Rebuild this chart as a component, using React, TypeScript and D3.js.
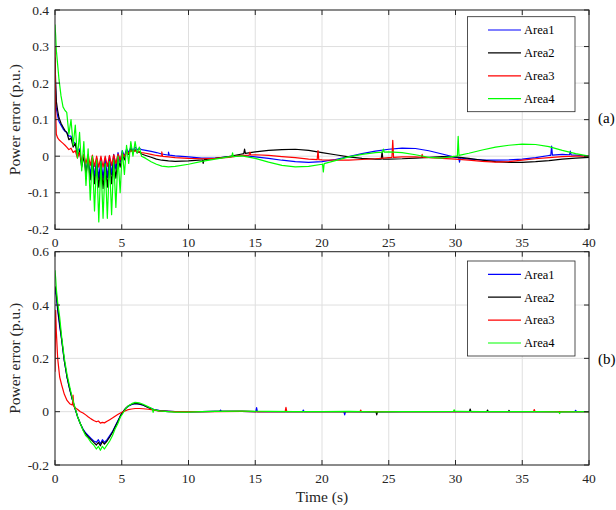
import React from 'react';
import * as d3 from 'd3';

// ---------- data ----------
const seriesNames = ['Area1', 'Area2', 'Area3', 'Area4'];
const seriesColors = ['#0000ff', '#000000', '#ff0000', '#00ff00'];
const xTicks = [0, 5, 10, 15, 20, 25, 30, 35, 40];
const yTicksA = [-0.2, -0.1, 0, 0.1, 0.2, 0.3, 0.4];
const yTicksB = [-0.2, 0, 0.2, 0.4, 0.6];

// panel (a)
const timeA = [
  0, 0.05, 0.1, 0.2, 0.3, 0.45, 0.6, 0.75,
  0.88, 1.04, 1.2, 1.36, 1.52, 1.68, 1.84, 2.0, 2.16, 2.32, 2.48, 2.64, 2.8, 2.96,
  3.12, 3.28, 3.44, 3.6, 3.76, 3.92, 4.08, 4.24, 4.4, 4.56, 4.72, 4.88, 5.04, 5.2,
  5.36, 5.52, 5.68, 5.84, 6.0, 6.16, 6.32, 6.48,
  6.8, 7.2, 7.6, 8, 8.5, 9,
  10, 11, 12, 13, 14, 15, 16, 17, 18, 19, 20, 21, 22, 23, 24, 25, 26, 27, 28, 29, 30,
  31, 32, 33, 34, 35, 36, 37, 38, 39, 40,
];
const a1 = [
  0.25, 0.18, 0.13, 0.11, 0.095, 0.085, 0.075, 0.068,
  0.065, 0.055, 0.055, 0.04, 0.035, 0.015, 0.02, -0.02, 0.005, -0.04, -0.005, -0.05, -0.005, -0.055,
  -0.005, -0.06, -0.008, -0.06, -0.005, -0.058, 0.0, -0.05, 0.005, -0.035, 0.01, -0.015, 0.015, 0.0,
  0.02, 0.01, 0.025, 0.015, 0.025, 0.018, 0.022, 0.018,
  0.016, 0.013, 0.01, 0.006, 0.003, 0.001,
  -0.002, -0.005, -0.005, -0.002, 0.002, -0.002, -0.006, -0.011, -0.015, -0.017, -0.015, -0.009, -0.001, 0.007, 0.014, 0.019, 0.022, 0.021, 0.015, 0.006, -0.003,
  -0.008, -0.01, -0.011, -0.01, -0.008, -0.004, 0.002, 0.005, 0.003, 0.0,
];
const a2 = [
  0.27, 0.2, 0.15, 0.125, 0.105, 0.09, 0.08, 0.07,
  0.065, 0.045, 0.05, 0.025, 0.035, 0.0, 0.015, -0.03, 0.0, -0.05, -0.01, -0.065, -0.015, -0.075,
  -0.02, -0.085, -0.02, -0.088, -0.02, -0.085, -0.015, -0.075, -0.01, -0.06, -0.005, -0.03, 0.005, -0.01,
  0.015, 0.005, 0.02, 0.01, 0.018, 0.01, 0.012, 0.006,
  0.002, -0.003, -0.008, -0.011, -0.013, -0.014,
  -0.013, -0.01, -0.006, -0.001, 0.006, 0.012, 0.016, 0.018, 0.019, 0.016, 0.01, 0.004, -0.002, -0.006, -0.008, -0.008, -0.007, -0.005, -0.003, -0.001, -0.002,
  -0.006, -0.011, -0.015, -0.017, -0.017, -0.015, -0.012, -0.008, -0.005, -0.003,
];
const a3 = [
  0.3, 0.12, 0.06, 0.05, 0.045, 0.04, 0.035, 0.03,
  0.025, 0.018, 0.022, 0.01, 0.015, -0.005, 0.01, -0.015, 0.005, -0.02, 0.005, -0.025, 0.003, -0.028,
  0.0, -0.03, 0.0, -0.03, 0.0, -0.028, 0.002, -0.025, 0.004, -0.02, 0.006, -0.01, 0.008, 0.0,
  0.012, 0.008, 0.015, 0.012, 0.015, 0.012, 0.012, 0.01,
  0.008, 0.005, 0.002, 0.0, -0.002, -0.004,
  -0.006, -0.007, -0.006, -0.003, 0.002, 0.004, 0.002, -0.001, -0.004, -0.008, -0.01, -0.011, -0.011, -0.009, -0.007, -0.004, -0.002, -0.002, -0.004, -0.006, -0.008,
  -0.011, -0.014, -0.016, -0.015, -0.011, -0.007, -0.004, -0.001, 0.0, 0.0,
];
const a4 = [
  0.36, 0.33, 0.29, 0.25, 0.21, 0.165, 0.135, 0.125,
  0.12, 0.06, 0.1, 0.03, 0.085, -0.005, 0.065, -0.04, 0.04, -0.08, 0.02, -0.12, 0.0, -0.15,
  -0.01, -0.18, -0.015, -0.17, -0.02, -0.17, -0.015, -0.16, -0.01, -0.14, 0.0, -0.1, 0.015, -0.05,
  0.03, -0.02, 0.04, 0.0, 0.04, 0.008, 0.025, 0.0,
  -0.006, -0.015, -0.022, -0.027, -0.029, -0.028,
  -0.022, -0.014, -0.008, -0.002, 0.001, -0.006, -0.016, -0.025, -0.029, -0.028, -0.022, -0.012, -0.002, 0.005, 0.01, 0.012, 0.01, 0.004, -0.003, -0.005, 0.0,
  0.008, 0.017, 0.025, 0.03, 0.033, 0.032, 0.026, 0.016, 0.007, 0.0,
];
// short spikes: series index, time, height above the curve
const spikesA = [
  { s: 0, t: 8.5, dy: 0.008 }, { s: 0, t: 30.3, dy: -0.012 }, { s: 0, t: 37.2, dy: 0.025 }, { s: 0, t: 38.6, dy: 0.01 },
  { s: 1, t: 11.1, dy: -0.01 }, { s: 1, t: 14.2, dy: 0.012 }, { s: 1, t: 24.5, dy: 0.02 },
  { s: 2, t: 8.0, dy: 0.012 }, { s: 2, t: 14.6, dy: 0.008 }, { s: 2, t: 19.7, dy: 0.025 }, { s: 2, t: 25.3, dy: 0.047 }, { s: 2, t: 27.5, dy: 0.008 },
  { s: 3, t: 13.3, dy: 0.01 }, { s: 3, t: 20.1, dy: -0.022 }, { s: 3, t: 24.6, dy: 0.008 }, { s: 3, t: 30.2, dy: 0.053 },
];

// panel (b)
const timeB = [
  0, 0.05, 0.1, 0.2, 0.35, 0.5, 0.7, 0.9, 1.1, 1.3, 1.5, 1.7, 1.9, 2.1, 2.3, 2.5, 2.7, 2.9,
  3.1, 3.25, 3.4, 3.55, 3.7, 3.9, 4.1, 4.3, 4.5, 4.7, 4.9, 5.1, 5.3, 5.5, 5.75, 6.0, 6.3, 6.6,
  7.0, 7.4, 7.8, 8.5, 9, 10, 11, 12, 14, 16, 18, 20, 22, 24, 26, 28, 30, 32, 34, 36, 38, 40,
];
const b1 = [
  0.44, 0.46, 0.43, 0.38, 0.32, 0.27, 0.19, 0.13, 0.085, 0.045, 0.012, -0.02, -0.045, -0.065, -0.08, -0.09, -0.1, -0.11,
  -0.115, -0.105, -0.12, -0.105, -0.115, -0.105, -0.09, -0.075, -0.055, -0.035, -0.015, 0.0, 0.012, 0.02, 0.027, 0.03, 0.028, 0.024,
  0.016, 0.009, 0.005, 0.002, 0.0, -0.001, 0.0, 0.001, 0.001, 0.0, 0.0, 0.0, 0.0, -0.001, 0.0, 0.0, 0.0, 0.0, 0.0, 0.0, 0.0, 0.0,
];
const b2 = [
  0.47, 0.46, 0.44, 0.39, 0.33, 0.27, 0.19, 0.13, 0.085, 0.045, 0.012, -0.02, -0.045, -0.068, -0.083, -0.095, -0.105, -0.115,
  -0.125, -0.115, -0.128, -0.112, -0.122, -0.11, -0.095, -0.078, -0.058, -0.038, -0.016, 0.0, 0.013, 0.022, 0.028, 0.031, 0.029, 0.025,
  0.015, 0.007, 0.003, 0.0, 0.0, 0.0, 0.0, 0.001, 0.001, 0.0, 0.0, 0.0, 0.0, 0.0, 0.0, 0.0, 0.0, 0.0, 0.0, 0.0, 0.0, 0.0,
];
const b3 = [
  0.15, 0.38, 0.3, 0.2, 0.13, 0.1, 0.065, 0.042, 0.03, 0.025, 0.015, 0.008, 0.0, -0.005, -0.012, -0.02, -0.027, -0.033,
  -0.038, -0.035, -0.043, -0.04, -0.042, -0.036, -0.03, -0.024, -0.017, -0.011, -0.005, 0.0, 0.004, 0.008, 0.01, 0.012, 0.012, 0.011,
  0.009, 0.006, 0.003, 0.001, 0.0, 0.0, 0.0, 0.0, 0.001, 0.0, 0.0, 0.0, 0.0, 0.0, 0.0, 0.0, 0.0, 0.0, 0.0, 0.0, 0.0, 0.0,
];
const b4 = [
  0.53, 0.5, 0.46, 0.41, 0.355, 0.28, 0.2, 0.14, 0.094, 0.05, 0.015, -0.02, -0.045, -0.07, -0.09, -0.1, -0.115, -0.125,
  -0.14, -0.13, -0.145, -0.13, -0.14, -0.125, -0.11, -0.09, -0.065, -0.045, -0.02, -0.005, 0.012, 0.022, 0.03, 0.035, 0.033, 0.028,
  0.018, 0.008, 0.003, 0.0, -0.002, -0.002, 0.0, 0.001, 0.002, 0.001, 0.0, 0.0, 0.001, -0.001, 0.0, 0.0, 0.001, 0.0, 0.0, 0.0, -0.001, 0.0,
];
const spikesB = [
  { s: 0, t: 12.4, dy: 0.005 }, { s: 0, t: 15.1, dy: 0.015 }, { s: 0, t: 18.6, dy: 0.006 }, { s: 0, t: 21.7, dy: -0.012 }, { s: 0, t: 39.0, dy: 0.005 },
  { s: 1, t: 24.1, dy: -0.012 }, { s: 1, t: 31.1, dy: 0.01 }, { s: 1, t: 32.4, dy: 0.006 }, { s: 1, t: 34.0, dy: 0.005 },
  { s: 2, t: 1.35, dy: 0.04 }, { s: 2, t: 17.3, dy: 0.016 }, { s: 2, t: 22.9, dy: 0.006 }, { s: 2, t: 35.9, dy: 0.008 },
  { s: 3, t: 7.35, dy: -0.012 }, { s: 3, t: 29.9, dy: 0.006 }, { s: 3, t: 37.8, dy: -0.006 },
];

// ---------- helpers ----------
type Spike = { s: number; t: number; dy: number };

function buildPoints(time: number[], vals: number[], spikes: Spike[], si: number): [number, number][] {
  const interp = (t: number) => {
    const i = Math.max(1, Math.min(time.length - 1, d3.bisectLeft(time, t)));
    const t0 = time[i - 1], t1 = time[i];
    const f = (t - t0) / (t1 - t0);
    return vals[i - 1] + (vals[i] - vals[i - 1]) * f;
  };
  const pts: [number, number][] = time.map((t, i) => [t, vals[i]]);
  const w = 0.06;
  spikes.filter((sp) => sp.s === si).forEach((sp) => {
    pts.push([sp.t - w, interp(sp.t - w)]);
    pts.push([sp.t, interp(sp.t) + sp.dy]);
    pts.push([sp.t + w, interp(sp.t + w)]);
  });
  pts.sort((p, q) => p[0] - q[0]);
  return pts;
}

const FONT = 'Liberation Serif, Times New Roman, Times, serif';
const AXIS = '#262626';
const GRID = '#dfdfdf';

type PanelProps = {
  id: string;
  top: number;
  bottom: number;
  yDomain: [number, number];
  yTicks: number[];
  time: number[];
  series: number[][];
  spikes: Spike[];
  legendOffset: number;
  tag: string;
  xLabel?: string;
};

const LEFT = 55;
const RIGHT = 589;

function Panel(p: PanelProps) {
  const x = d3.scaleLinear().domain([0, 40]).range([LEFT, RIGHT]);
  const y = d3.scaleLinear().domain(p.yDomain).range([p.bottom, p.top]);
  const line = d3
    .line<[number, number]>()
    .x((d) => x(d[0]))
    .y((d) => y(d[1]));
  const tick = 5;
  const lgX = RIGHT - 121.5;
  const lgY = p.top + p.legendOffset;
  const lgW = 107.5;
  const lgH = 95;
  const rowGap = 22.9;
  const fmt = (v: number) => String(Math.round(v * 10) / 10);
  return (
    <g>
      <defs>
        <clipPath id={`clip-${p.id}`}>
          <rect x={LEFT} y={p.top} width={RIGHT - LEFT} height={p.bottom - p.top} />
        </clipPath>
      </defs>
      <rect x={LEFT} y={p.top} width={RIGHT - LEFT} height={p.bottom - p.top} fill="#fff" />
      {xTicks.map((t) => (
        <line key={`gx${t}`} x1={x(t)} x2={x(t)} y1={p.top} y2={p.bottom} stroke={GRID} strokeWidth={1} />
      ))}
      {p.yTicks.map((t) => (
        <line key={`gy${t}`} x1={LEFT} x2={RIGHT} y1={y(t)} y2={y(t)} stroke={GRID} strokeWidth={1} />
      ))}
      <g clipPath={`url(#clip-${p.id})`}>
        {p.series.map((vals, si) => (
          <path
            key={si}
            d={line(buildPoints(p.time, vals, p.spikes, si)) || ''}
            fill="none"
            stroke={seriesColors[si]}
            strokeWidth={1.2}
            strokeLinejoin="round"
          />
        ))}
      </g>
      <rect x={LEFT} y={p.top} width={RIGHT - LEFT} height={p.bottom - p.top} fill="none" stroke={AXIS} strokeWidth={1} />
      {xTicks.map((t) => (
        <g key={`tx${t}`}>
          <line x1={x(t)} x2={x(t)} y1={p.bottom} y2={p.bottom - tick} stroke={AXIS} />
          <line x1={x(t)} x2={x(t)} y1={p.top} y2={p.top + tick} stroke={AXIS} />
          <text x={x(t)} y={p.bottom + 18} textAnchor="middle" fontFamily={FONT} fontSize={13.5} fill="#262626">
            {t}
          </text>
        </g>
      ))}
      {p.yTicks.map((t) => (
        <g key={`ty${t}`}>
          <line x1={LEFT} x2={LEFT + tick} y1={y(t)} y2={y(t)} stroke={AXIS} />
          <line x1={RIGHT} x2={RIGHT - tick} y1={y(t)} y2={y(t)} stroke={AXIS} />
          <text x={LEFT - 6} y={y(t) + 4.5} textAnchor="end" fontFamily={FONT} fontSize={13.5} fill="#262626">
            {fmt(t)}
          </text>
        </g>
      ))}
      <text
        transform={`translate(${20},${(p.top + p.bottom) / 2}) rotate(-90)`}
        textAnchor="middle"
        fontFamily={FONT}
        fontSize={15.5}
        fill="#262626"
      >
        Power error (p.u.)
      </text>
      {p.xLabel && (
        <text x={(LEFT + RIGHT) / 2} y={p.bottom + 37} textAnchor="middle" fontFamily={FONT} fontSize={15.5} fill="#262626">
          {p.xLabel}
        </text>
      )}
      <rect x={lgX} y={lgY} width={lgW} height={lgH} fill="#fff" stroke={AXIS} strokeWidth={0.8} />
      {seriesNames.map((n, i) => {
        const ry = lgY + 13.3 + i * rowGap;
        return (
          <g key={n}>
            <line x1={lgX + 20.5} x2={lgX + 53.5} y1={ry} y2={ry} stroke={seriesColors[i]} strokeWidth={1.2} />
            <text x={lgX + 56.5} y={ry + 4.3} fontFamily={FONT} fontSize={12.5} fill="#000">
              {n}
            </text>
          </g>
        );
      })}
      <text x={598} y={p.top + 112.5} fontFamily={FONT} fontSize={15} fill="#000">
        {p.tag}
      </text>
    </g>
  );
}

export default function App() {
  return (
    <svg
      width={616}
      height={510}
      viewBox="0 0 616 510"
      style={{ position: 'absolute', left: 0, top: 0, background: '#fff' }}
    >
      <rect x={0} y={0} width={616} height={510} fill="#fff" />
      <Panel
        id="a"
        top={10}
        bottom={229.3}
        yDomain={[-0.2, 0.4]}
        yTicks={yTicksA}
        time={timeA}
        series={[a1, a2, a3, a4]}
        spikes={spikesA}
        legendOffset={6.7}
        tag="(a)"
      />
      <Panel
        id="b"
        top={251.7}
        bottom={465}
        yDomain={[-0.2, 0.6]}
        yTicks={yTicksB}
        time={timeB}
        series={[b1, b2, b3, b4]}
        spikes={spikesB}
        legendOffset={9.3}
        tag="(b)"
        xLabel="Time (s)"
      />
    </svg>
  );
}
